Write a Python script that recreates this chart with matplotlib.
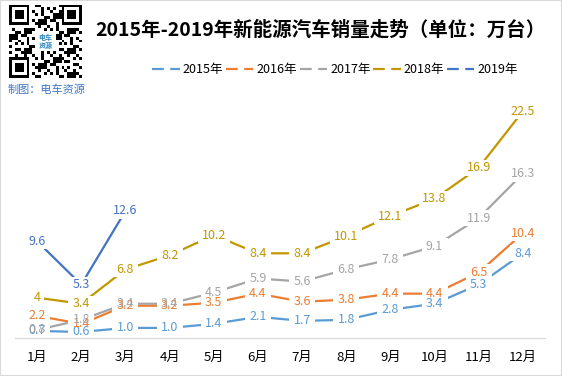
import matplotlib
matplotlib.use("Agg")
import matplotlib.pyplot as plt
from matplotlib.lines import Line2D
from matplotlib.patches import Rectangle
from matplotlib.path import Path
import numpy as np

plt.rcParams['font.family'] = ['Noto Sans CJK SC', 'DejaVu Sans']

months = ["1月", "2月", "3月", "4月", "5月", "6月", "7月", "8月", "9月", "10月", "11月", "12月"]
years = ["2015年", "2016年", "2017年", "2018年", "2019年"]
sales_2015 = [0.7, 0.6, 1.0, 1.0, 1.4, 2.1, 1.7, 1.8, 2.8, 3.4, 5.3, 8.4]
sales_2016 = [2.2, 1.4, 3.2, 3.2, 3.5, 4.4, 3.6, 3.8, 4.4, 4.4, 6.5, 10.4]
sales_2017 = [0.8, 1.8, 3.4, 3.4, 4.5, 5.9, 5.6, 6.8, 7.8, 9.1, 11.9, 16.3]
sales_2018 = [4, 3.4, 6.8, 8.2, 10.2, 8.4, 8.4, 10.1, 12.1, 13.8, 16.9, 22.5]
sales_2019 = [9.6, 5.3, 12.6]
colors = ["#5B9BD5", "#ED7D31", "#A5A5A5", "#C29700", "#4472C4"]

W, H = 562, 376
fig = plt.figure(figsize=(W / 100, H / 100), dpi=100)
fig.patches.append(Rectangle((0, 0), 1, 1, transform=fig.transFigure, fill=False,
                             edgecolor="#D9D9D9", linewidth=1.5))

ax = fig.add_axes([15 / W, 38 / H, 530 / W, 252 / H])
ax.set_xlim(0.5, 12.5)
ax.set_ylim(0, 25)
for s in ["top", "left", "right"]:
    ax.spines[s].set_visible(False)
ax.spines["bottom"].set_color("#D9D9D9")
ax.set_yticks([])
x = np.arange(1, 13)
ax.set_xticks(x)
ax.set_xticklabels(months, fontsize=9.5)
ax.tick_params(axis="x", length=0, pad=9)


def knockout(width_pt, height_pt):
    # white rectangle marker that breaks the line around a label
    h = height_pt / width_pt
    if h <= 1:
        verts = [(-1, -h), (1, -h), (1, h), (-1, h), (-1, -h)]
        size = width_pt
    else:
        w = 1 / h
        verts = [(-w, -1), (w, -1), (w, 1), (-w, 1), (-w, -1)]
        size = height_pt
    return Path(verts, closed=True), size


all_series = [sales_2015, sales_2016, sales_2017, sales_2018, sales_2019]
for vals, c in zip(all_series, colors):
    xs = x[:len(vals)]
    ax.plot(xs, vals, color=c, linewidth=1.6, zorder=1, solid_capstyle="butt")
    for xi, v in zip(xs, vals):
        lab = f"{v:.1f}" if v != 4 else "4"
        ndig = sum(ch.isdigit() for ch in lab)
        wpx = 6.9 * ndig + 3.5 * lab.count(".") + 8
        mk, size = knockout(wpx * 0.72, 16 * 0.72)
        ax.plot([xi], [v], marker=mk, markersize=size, color="white",
                markeredgewidth=0, linestyle="none", zorder=2)
        ax.text(xi, v, lab, ha="center", va="center", fontsize=9, color=c, zorder=3)

handles = [Line2D([], [], color=c, linewidth=1.6, linestyle=(0, (5.3, 2.9))) for c in colors]
fig.legend(handles, years, loc="center", bbox_to_anchor=(335 / W, 1 - 70 / H), ncol=5,
           frameon=False, fontsize=9, handlelength=2.2, handletextpad=0.25,
           columnspacing=0.2)

fig.text(320 / W, 1 - 30 / H, "2015年-2019年新能源汽车销量走势（单位：万台）",
         ha="center", va="center", fontsize=14, fontweight="bold")

# QR code decoration
qax = fig.add_axes([8 / W, 1 - 78 / H, 75 / W, 73 / H])
n = 25
i, j = np.mgrid[0:n, 0:n]
qr = ((i * i + 3 * j + i * j) % 5 < 2) ^ ((i + 2 * j) % 3 == 0)
for (r0, c0) in [(0, 0), (0, n - 7), (n - 7, 0)]:
    qr[r0:r0 + 8 if r0 == 0 else n, c0:c0 + 8 if c0 == 0 else n] = False
    qr[r0:r0 + 7, c0:c0 + 7] = True
    qr[r0 + 1:r0 + 6, c0 + 1:c0 + 6] = False
    qr[r0 + 2:r0 + 5, c0 + 2:c0 + 5] = True
qr[9:16, 9:16] = False
qax.imshow(~qr, cmap="gray", interpolation="nearest")
qax.text(12, 12, "电车\n资源", ha="center", va="center", fontsize=5, color="#2E86C1",
         fontweight="bold", linespacing=1.0)
qax.axis("off")

fig.text(8 / W, 1 - 90 / H, "制图：电车资源", ha="left", va="center", fontsize=8, color="#3F76C6")

fig.savefig("out.png", dpi=100)
